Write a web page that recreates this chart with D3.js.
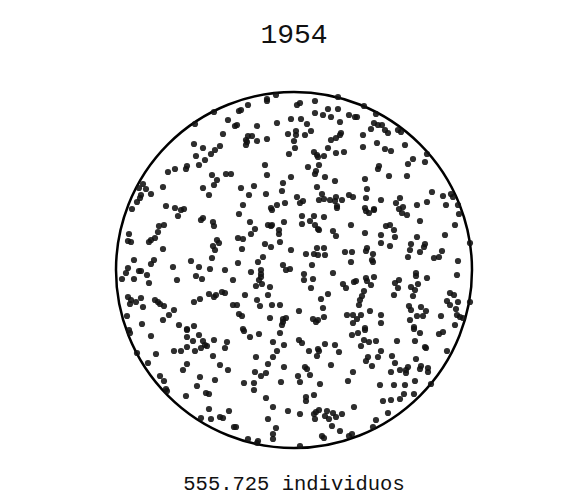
<!DOCTYPE html>
<html><head><meta charset="utf-8">
<script src="https://cdn.jsdelivr.net/npm/d3@7"></script>
<style>html,body{margin:0;padding:0;background:#fff;}svg{display:block;}</style>
</head><body>
<script>
const year = "1954";
const totalLabel = "555.725 individuos";
const dotsX = [214,195,228,235,223,194,203,220,215,211,196,205,199,187,186,175,168,212,226,231,217,214,163,203,209,143,139,146,151,141,140,137,166,175,184,132,
276,267,267,248,241,239,297,300,315,338,315,323,328,338,331,349,355,291,301,277,257,237,307,340,311,296,288,296,305,248,252,246,247,246,257,267,294,341,340,336,331,295,289,314,317,318,324,328,336,344,265,308,319,316,315,267,291,325,335,283,241,254,317,282,249,266,297,322,319,324,303,300,330,336,335,342,349,353,243,277,285,271,337,
364,376,357,374,378,382,371,385,388,398,401,363,377,363,385,391,405,427,413,408,425,379,378,389,407,365,367,366,381,400,396,403,417,427,432,443,451,453,446,458,365,374,
181,178,201,203,213,214,164,159,158,155,151,149,129,128,131,163,217,219,213,215,212,191,199,210,225,173,154,151,134,128,126,139,141,147,149,122,134,177,196,202,233,128,131,130,136,141,143,155,158,160,164,174,169,163,194,200,209,214,216,222,225,233,127,142,179,187,194,129,
272,239,337,302,314,324,310,302,315,318,319,351,250,255,251,268,271,272,284,279,279,280,333,336,238,243,265,271,242,291,306,317,324,314,318,325,345,352,263,258,238,261,261,261,251,283,286,290,312,351,304,333,259,256,262,270,304,313,311,343,346,354,245,268,257,260,272,280,321,328,237,323,299,239,242,270,283,286,283,282,313,316,318,324,347,353,353,243,
366,369,374,399,402,407,420,459,455,365,386,390,394,381,395,381,390,417,411,425,424,410,420,445,470,367,366,373,372,373,408,434,439,442,458,457,416,416,427,366,367,371,374,356,364,362,360,359,395,399,398,411,415,418,394,413,450,454,447,450,458,470,409,411,421,426,417,423,456,370,361,357,381,410,441,457,460,463,381,414,365,455,
130,151,187,187,199,193,203,205,214,227,225,187,181,174,195,201,207,137,156,213,148,187,183,220,228,160,164,200,215,197,166,167,206,209,186,209,229,201,211,220,223,234,
244,250,259,280,299,302,273,284,277,273,256,268,309,318,319,317,325,335,339,352,331,284,305,307,310,298,255,261,266,281,300,320,348,353,244,254,254,266,306,306,314,273,288,300,314,316,319,315,325,327,333,329,336,342,332,268,276,273,273,340,354,236,248,258,257,300,322,324,349,352,
358,365,364,369,376,361,414,420,439,443,397,415,425,426,447,381,368,366,378,392,372,395,416,400,391,408,406,406,421,420,428,428,415,431,380,394,405,404,400,414,383,391,388,376,373];
const dotsY = [112,124,120,126,134,144,148,146,150,154,156,160,165,166,169,169,172,175,174,174,180,185,187,188,195,184,188,189,194,195,198,202,206,208,209,209,
95,99,101,105,110,111,105,103,101,97,113,115,109,109,117,115,117,119,119,123,126,125,124,122,131,131,134,135,135,136,136,140,142,145,141,139,141,133,135,138,140,148,154,152,155,157,156,148,153,152,165,167,165,171,174,175,177,177,181,183,188,186,187,191,195,194,197,194,200,199,201,203,200,197,201,200,195,197,205,205,203,208,206,
106,114,117,123,125,125,129,130,133,130,132,135,143,147,149,151,145,154,159,164,162,166,169,176,176,179,189,198,200,198,203,207,205,202,192,196,194,197,205,205,208,209,
210,216,220,218,222,226,225,226,232,238,240,242,234,241,242,249,240,243,246,250,258,261,267,269,270,267,260,264,260,268,273,271,271,275,283,279,279,280,276,279,280,297,300,304,302,298,307,300,302,304,306,310,315,320,302,299,294,297,295,292,293,305,316,324,325,329,326,330,
210,214,208,216,216,217,221,224,225,229,230,225,222,229,234,225,226,225,222,230,234,242,231,236,238,239,244,247,249,250,254,248,248,254,255,255,252,252,257,262,263,270,274,277,272,265,270,269,265,262,274,273,280,286,284,287,280,279,288,284,288,282,295,295,300,306,305,305,299,294,305,308,311,314,316,318,319,318,322,325,319,322,320,317,315,315,323,329,
211,213,210,209,213,215,221,214,225,233,226,225,230,235,237,243,246,237,244,244,247,250,252,235,243,248,251,254,260,262,257,258,257,251,261,275,273,276,278,278,281,285,277,281,291,296,300,305,283,280,288,287,290,284,295,296,293,295,301,305,302,302,306,310,307,311,316,316,309,311,315,319,315,320,316,315,317,318,323,327,328,325,
333,336,330,337,335,341,341,345,340,342,348,347,351,351,351,348,346,353,354,356,363,364,370,365,370,376,381,377,380,386,389,391,393,394,396,409,411,418,419,417,418,427,
331,337,334,333,340,343,342,345,351,357,357,364,351,349,351,356,344,345,352,335,365,367,367,369,375,376,372,376,373,382,382,384,381,372,383,383,390,398,397,401,395,407,411,414,414,412,410,419,416,411,413,419,417,414,426,419,428,434,439,431,407,427,439,441,443,446,436,438,436,434,
333,330,340,342,341,346,329,333,334,332,341,341,347,348,351,351,357,361,357,356,366,363,359,370,372,367,370,373,366,369,368,372,381,384,385,385,385,394,399,394,401,400,413,420,427];

const W = 588, H = 504;
const cx = 294, cy = 270, R = 178;
const svg = d3.select("body").append("svg").attr("width", W).attr("height", H);

const x = d3.scaleLinear().domain([116, 472]).range([cx - R, cx + R]);
const y = d3.scaleLinear().domain([92, 448]).range([cy - R, cy + R]);

svg.append("text").attr("x", W / 2).attr("y", 43).attr("text-anchor", "middle")
  .style("font-family", "'Liberation Mono', 'DejaVu Sans Mono', monospace")
  .style("font-size", "28px").attr("fill", "#111").text(year);

svg.append("circle").attr("cx", cx).attr("cy", cy).attr("r", R)
  .attr("fill", "none").attr("stroke", "#000").attr("stroke-width", 2.5);

const pts = dotsX.map((d, i) => ({x: d, y: dotsY[i]}));
svg.append("g").selectAll("circle").data(pts).join("circle")
  .attr("cx", d => x(d.x)).attr("cy", d => y(d.y)).attr("r", 3.1)
  .attr("fill", "#111").attr("fill-opacity", 0.88);

svg.append("text").attr("x", W / 2).attr("y", 490).attr("text-anchor", "middle")
  .style("font-family", "'Liberation Mono', 'DejaVu Sans Mono', monospace")
  .style("font-size", "20.5px").attr("fill", "#111").text(totalLabel);
</script>
</body></html>
